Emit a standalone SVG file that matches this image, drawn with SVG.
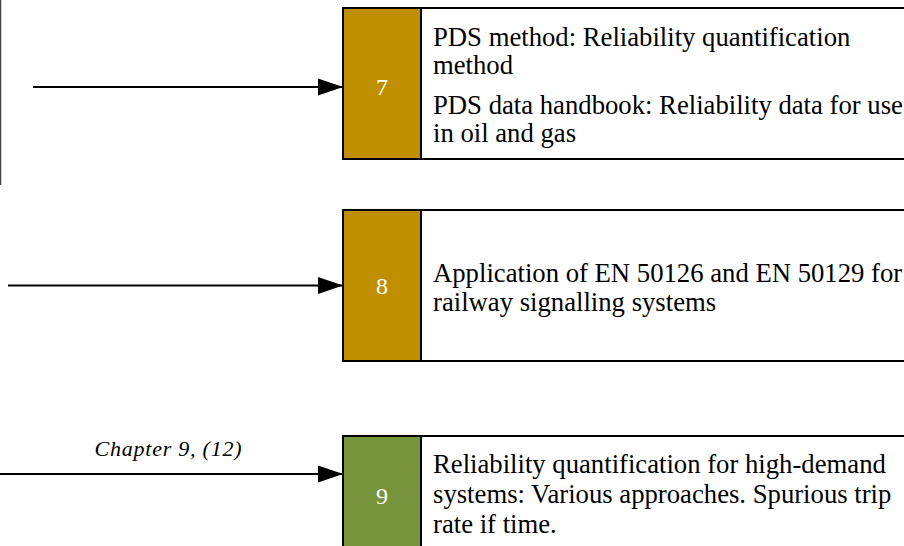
<svg xmlns="http://www.w3.org/2000/svg" width="904" height="546" viewBox="0 0 904 546">
<defs>
<style>
.num{fill:#BF8F00;stroke:#000;stroke-width:2}
.num9{fill:#77933C;stroke:#000;stroke-width:2}
.box{fill:#fff;stroke:#000;stroke-width:2}
.n{font-size:24px;fill:#fff;text-anchor:middle}
.t{font-size:26.7px;fill:#000}
.lbl{font-size:22px;font-style:italic;fill:#000;text-anchor:middle}
.edge{stroke:#000;stroke-width:2;fill:none}
</style>
<marker id="arr" markerWidth="26" markerHeight="18" refX="25" refY="9" orient="auto" markerUnits="userSpaceOnUse">
<path d="M0,0.5 L25,9 L0,17.5 Z" fill="#000"/>
</marker>
</defs>
<rect width="904" height="546" fill="#fff"/>
<line x1="0.5" y1="0" x2="0.5" y2="185" stroke="#444" stroke-width="1.5"/>
<g font-family="Liberation Serif, DejaVu Serif, serif">
<g id="connectors">
<line class="edge" x1="33" y1="87" x2="343" y2="87" marker-end="url(#arr)"/>
<line class="edge" x1="8" y1="285.5" x2="343" y2="285.5" marker-end="url(#arr)"/>
<line class="edge" x1="0" y1="474" x2="343" y2="474" marker-end="url(#arr)"/>
<text class="lbl" x="168" y="456" textLength="147">Chapter 9, (12)</text>
</g>
<g id="node7">
<rect class="num" x="343" y="8" width="78" height="151"/>
<rect class="box" x="421" y="8" width="500" height="151"/>
<text class="n" x="382" y="95">7</text>
<text class="t" x="433" y="46">PDS method: Reliability quantification</text>
<text class="t" x="433" y="74">method</text>
<text class="t" x="433" y="114">PDS data handbook: Reliability data for use</text>
<text class="t" x="433" y="142">in oil and gas</text>
</g>
<g id="node8">
<rect class="num" x="343" y="210" width="78" height="151"/>
<rect class="box" x="421" y="210" width="500" height="151"/>
<text class="n" x="382" y="294">8</text>
<text class="t" x="433" y="282">Application of EN 50126 and EN 50129 for</text>
<text class="t" x="433" y="311">railway signalling systems</text>
</g>
<g id="node9">
<rect class="num9" x="343" y="436" width="78" height="151"/>
<rect class="box" x="421" y="436" width="500" height="151"/>
<text class="n" x="382" y="504">9</text>
<text class="t" x="433" y="473">Reliability quantification for high-demand</text>
<text class="t" x="433" y="503">systems: Various approaches. Spurious trip</text>
<text class="t" x="433" y="533">rate if time.</text>
</g>
</g>
</svg>
